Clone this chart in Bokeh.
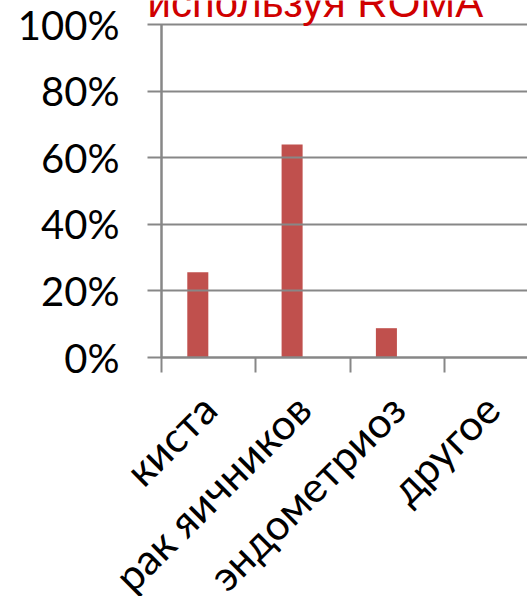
import math

from bokeh.embed import file_html
from bokeh.models import (ColumnDataSource, FixedTicker, Label, LinearAxis,
                          NumeralTickFormatter, Range1d)
from bokeh.plotting import figure
from bokeh.resources import INLINE
from bokeh.transform import dodge

# Diagnosis shares found using ROMA
categories = ["киста", "рак яичников", "эндометриоз", "другое"]
shares = [0.256, 0.64, 0.088, 0.0]
y_ticks = [0.0, 0.2, 0.4, 0.6, 0.8, 1.0]
title_text = "используя ROMA"

GRID = "#878787"
BAR = "#C0504D"
LABEL_FONT = "Lato"

W, H = 527, 596
# pixel geometry of the plotting area inside the canvas
LEFT_PX, TOP_PX, BOTTOM_PX = 161, 24, 357
CAT_PX = 94.3
UNIT_PX = BOTTOM_PX - TOP_PX

positions = [i + 0.5 for i in range(len(categories))]
boundaries = [float(i) for i in range(len(categories) + 1)]
source = ColumnDataSource(dict(x=positions, share=shares, name=categories))

# the frame covers the whole canvas; the axes are pinned at the data origin
p = figure(
    width=W, height=H,
    x_range=Range1d(-LEFT_PX / CAT_PX, (W - LEFT_PX) / CAT_PX),
    y_range=Range1d(-(H - BOTTOM_PX) / UNIT_PX, 1 + TOP_PX / UNIT_PX),
    output_backend="svg", toolbar_location=None,
    x_axis_location=None, y_axis_location=None,
    min_border=0,
)
p.outline_line_color = None
p.background_fill_color = "white"
p.border_fill_color = "white"
p.xgrid.visible = False
p.ygrid.visible = False

# bars sit slightly left of each category centre
p.vbar(x=dodge("x", -0.115), top="share", width=0.223, bottom=0,
       source=source, fill_color=BAR, line_color=None)

# value axis; its long inward ticks serve as the horizontal gridlines
yaxis = LinearAxis(ticker=FixedTicker(ticks=y_ticks),
                   formatter=NumeralTickFormatter(format="0%"),
                   fixed_location=0, bounds=(0, 1))
yaxis.axis_line_color = GRID
yaxis.axis_line_width = 2.5
yaxis.major_tick_line_color = GRID
yaxis.major_tick_line_width = 2
yaxis.major_tick_out = 14
yaxis.major_tick_in = W - LEFT_PX
yaxis.minor_tick_line_color = None
yaxis.major_label_standoff = 28
yaxis.major_label_text_font = LABEL_FONT
yaxis.major_label_text_font_size = "40px"
yaxis.major_label_text_color = "black"
p.add_layout(yaxis, "left")

# category axis: labels at the centres, tick marks on the boundaries
xaxis = LinearAxis(ticker=FixedTicker(ticks=positions, minor_ticks=boundaries),
                   fixed_location=0, bounds=(0, len(categories)))
xaxis.major_label_overrides = {x: name for x, name in zip(positions, categories)}
xaxis.axis_line_color = GRID
xaxis.axis_line_width = 2
xaxis.major_tick_line_color = None
xaxis.major_tick_out = 15
xaxis.major_tick_in = 0
xaxis.minor_tick_line_color = GRID
xaxis.minor_tick_line_width = 2
xaxis.minor_tick_out = 15
xaxis.minor_tick_in = 0
xaxis.major_label_orientation = math.pi / 4
xaxis.major_label_standoff = 29
xaxis.major_label_text_font = LABEL_FONT
xaxis.major_label_text_font_size = "42px"
xaxis.major_label_text_color = "black"
p.add_layout(xaxis, "below")

p.add_layout(Label(
    x=-0.148, y=1.066, text=title_text, text_align="left",
    text_baseline="alphabetic", text_font="Liberation Sans",
    text_font_size="42px", text_color="#D00000",
))

open("out.html", "w").write(file_html(p, INLINE))
